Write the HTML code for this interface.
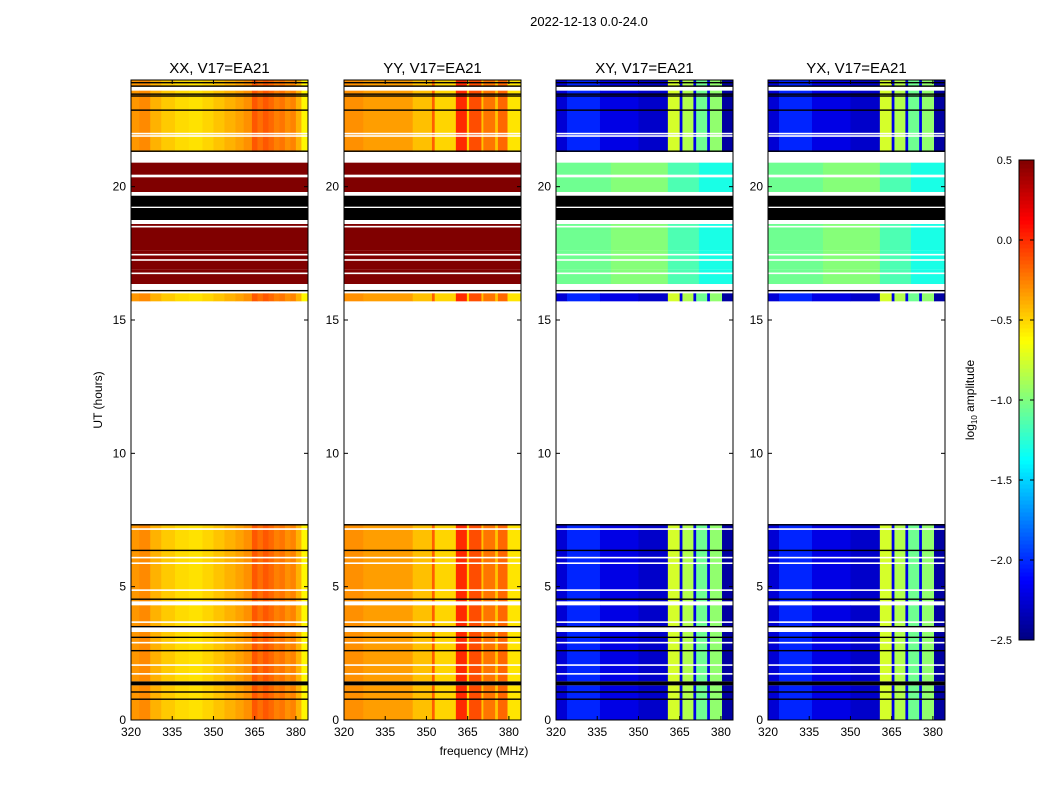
<!DOCTYPE html>
<html><head><meta charset="utf-8"><style>
body{margin:0;background:#fff;}
svg{display:block;font-family:"Liberation Sans",sans-serif;}
</style></head><body>
<svg id="chart" width="1050" height="800" viewBox="0 0 1050 800" xmlns="http://www.w3.org/2000/svg">
<rect width="1050" height="800" fill="#fff"/>
<text x="589" y="26" font-size="13" text-anchor="middle">2022-12-13 0.0-24.0</text>
<text x="484" y="755" font-size="12" text-anchor="middle">frequency (MHz)</text>
<text transform="translate(102,400) rotate(-90)" font-size="12" text-anchor="middle">UT (hours)</text>
<g id="panels"></g>
<g id="cbar"></g>
</svg>
<script>
// ---- data ----
const panelTitles = ["XX, V17=EA21","YY, V17=EA21","XY, V17=EA21","YX, V17=EA21"];
const yTicks = [0,5,10,15,20];
const xTicks = [320,335,350,365,380];
const cbarTicks = [0.5,0.0,-0.5,-1.0,-1.5,-2.0,-2.5];
// row segments: start hour, end hour, type (N normal, W flagged, B black, S saturated)
const rowStart = [0,1.3,1.45,3.3,3.5,4.3,4.45,7.35,15.7,16.0,16.35,16.9,17.6,18.0,18.6,18.75,19.2,19.25,19.66,19.8,20.35,20.45,20.9,21.3,23.6,23.75];
const rowEnd   = [1.3,1.45,3.3,3.5,4.3,4.45,7.35,15.7,16.0,16.35,16.9,17.6,18.0,18.6,18.75,19.2,19.25,19.66,19.8,20.35,20.45,20.9,21.3,23.6,23.75,24];
const rowType  = ["N","B","N","W","N","W","N","W","N","W","S","S","S","S","W","B","W","B","W","S","W","S","W","N","W","N"];
const whiteLines = [7.16,6.09,5.88,4.87,3.67,2.9,2.06,1.73,21.99,21.9,17.45,17.25,16.75,21.1,21.2,18.5];
const blackLines = [7.32,6.36,4.53,3.5,3.1,2.6,1.05,0.78,23.9,23.77,23.47,23.4,22.87,21.33,16.1];
// frequency profiles (edges in MHz, log10 amplitude)
const xxEdges = [320,323,327,331,336,341,346,350,354,358,361,364,366,368,370,372,374,376,378,380,382,384.5];
const xxVals  = [-0.32,-0.28,-0.4,-0.47,-0.52,-0.54,-0.5,-0.45,-0.4,-0.35,-0.3,-0.13,-0.2,-0.13,-0.18,-0.25,-0.22,-0.3,-0.26,-0.4,-0.6,-0.72];
const yyEdges = [320,327,345,352,353,360.7,364.7,365.5,370,370.7,375,376,379.5,384.5];
const yyVals  = [-0.3,-0.34,-0.44,-0.15,-0.5,0.0,-0.5,-0.1,-0.45,-0.22,-0.45,-0.18,-0.55];
const xyEdges = [320,324,336,350,360.7,365,366,370,371,375,376,380.4,384.5];
const xyVals  = [-2.25,-2.02,-2.2,-2.28,-0.75,-2.2,-0.85,-2.2,-1.05,-2.2,-0.95,-2.4];
const yxVals  = [-2.25,-2.02,-2.2,-2.28,-0.75,-2.2,-0.85,-2.2,-1.05,-2.2,-0.95,-2.4];
const satEdges = [320,340,360.7,372,384.5];
const xySatVals = [-1.05,-0.98,-1.15,-1.3];
const panelLeft = [131,344,556,768];

// ---- axis functions ----
const PW=177, PT=80, PB=720, XMIN=320, XMAX=384.4, YMAX=24;
const yPix = h => PB - (h/YMAX)*(PB-PT);
const xPix = (p,f) => panelLeft[p] + (f-XMIN)/(XMAX-XMIN)*PW;
function jet(v){
  let t=(v+2.5)/3; t=Math.max(0,Math.min(1,t));
  const c=x=>Math.round(255*Math.max(0,Math.min(1,x)));
  return `rgb(${c(1.5-Math.abs(4*t-3))},${c(1.5-Math.abs(4*t-2))},${c(1.5-Math.abs(4*t-1))})`;
}
const NS="http://www.w3.org/2000/svg";
function mk(tag,attrs,parent){const e=document.createElementNS(NS,tag);for(const k in attrs)e.setAttribute(k,attrs[k]);parent.appendChild(e);return e;}
const root=document.getElementById('panels');
const profiles=[[xxEdges,xxVals],[yyEdges,yyVals],[xyEdges,xyVals],[xyEdges,yxVals]];
for(let p=0;p<4;p++){
  const g=mk('g',{},root);
  
  
  const cross=p>=2;
  for(let r=0;r<rowStart.length;r++){
    const y0=yPix(rowEnd[r]), y1=yPix(rowStart[r]);
    const t=rowType[r];
    if(t==="W") continue;
    if(t==="B"){const e=mk('rect',{x:panelLeft[p],y:y0,width:PW,height:y1-y0,fill:'#000'},g);
      continue;}
    let edges,vals;
    if(t==="S"){ if(cross){edges=satEdges;vals=xySatVals;} else {edges=[320,384.5];vals=[0.5];} }
    else {edges=profiles[p][0];vals=profiles[p][1];}
    for(let i=0;i<vals.length;i++){
      const xa=xPix(p,edges[i]), xb=Math.min(xPix(p,edges[i+1]),panelLeft[p]+PW);
      const e=mk('rect',{x:xa,y:y0,width:Math.max(0,xb-xa)+0.3,height:y1-y0,fill:jet(vals[i])},g);
      
      
    }
  }
  for(const h of whiteLines){const e=mk('rect',{x:panelLeft[p],y:yPix(h)-0.8,width:PW,height:1.6,fill:'#fff'},g);
    }
  for(const h of blackLines){const e=mk('rect',{x:panelLeft[p],y:yPix(h)-0.7,width:PW,height:1.4,fill:'#000'},g);
    }
  const fr=mk('rect',{x:panelLeft[p],y:PT,width:PW,height:PB-PT,fill:'none',stroke:'#000','stroke-width':1},g);
  
  const tt=mk('text',{x:panelLeft[p]+PW/2,y:73,'font-size':15,'text-anchor':'middle'},g);
  tt.textContent=panelTitles[p];
  
  for(const v of yTicks){const y=yPix(v);
    mk('line',{x1:panelLeft[p],x2:panelLeft[p]+4,y1:y,y2:y,stroke:'#000'},g);
    mk('line',{x1:panelLeft[p]+PW-4,x2:panelLeft[p]+PW,y1:y,y2:y,stroke:'#000'},g);
    const l=mk('text',{x:panelLeft[p]-5,y:y+4,'font-size':12,'text-anchor':'end'},g);
    l.textContent=v;}
  for(const v of xTicks){const x=xPix(p,v);
    mk('line',{x1:x,x2:x,y1:PB,y2:PB-4,stroke:'#000'},g);
    mk('line',{x1:x,x2:x,y1:PT,y2:PT+4,stroke:'#000'},g);
    const l=mk('text',{x:x,y:PB+16,'font-size':12,'text-anchor':'middle'},g);
    l.textContent=v;}
}
// colorbar
const cb=document.getElementById('cbar');

const CX=1019,CW=15,CT=160,CB=640;
const cbY=v=>CB-(v+2.5)/3*(CB-CT);
for(let i=0;i<120;i++){const v0=-2.5+3*i/120,v1=-2.5+3*(i+1)/120;
  mk('rect',{x:CX,y:cbY(v1),width:CW,height:cbY(v0)-cbY(v1)+0.5,fill:jet((v0+v1)/2)},cb);}
mk('rect',{x:CX,y:CT,width:CW,height:CB-CT,fill:'none',stroke:'#000'},cb);
for(const v of cbarTicks){const y=cbY(v);
  mk('line',{x1:CX,x2:CX+4,y1:y,y2:y,stroke:'#000'},cb);
  mk('line',{x1:CX+CW-4,x2:CX+CW,y1:y,y2:y,stroke:'#000'},cb);
  const l=mk('text',{x:1012,y:y+4,'font-size':11,'text-anchor':'end'},cb);
  l.textContent=v.toFixed(1).replace('-','\u2212');
  }
const cl=mk('text',{transform:'translate(974,400) rotate(-90)','font-size':12,'text-anchor':'middle'},cb);
cl.innerHTML='log<tspan font-size="8" dy="3">10</tspan><tspan dy="-3"> amplitude</tspan>';

</script>
</body></html>
